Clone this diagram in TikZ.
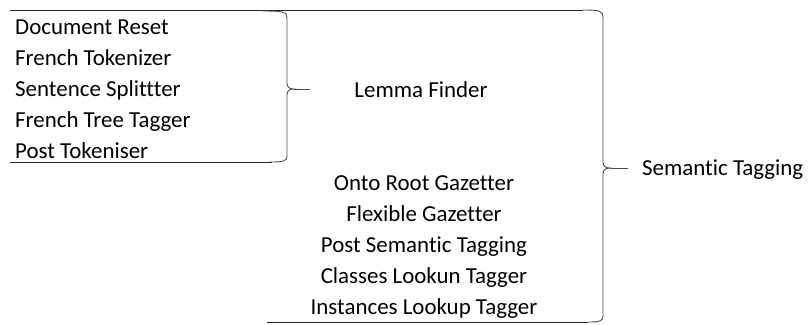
\documentclass[tikz,border=0pt]{standalone}
\usepackage{fontspec}
\setmainfont{Carlito}[RawFeature={-liga;-clig}]
\begin{document}
\begin{tikzpicture}[x=1bp,y=-1bp,
  lbl/.style={inner sep=0pt,font=\fontsize{23}{27}\selectfont},
  ln/.style={line width=0.9bp,draw=black!85},
  brace/.style={line width=0.9bp,draw=black!70}]
\useasboundingbox (0,0) rectangle (808,324);
% left list
\node[lbl,anchor=base west] (a1) at (15,34) {Document Reset};
\node[lbl,anchor=base west] (a2) at (15,65) {French Tokenizer};
\node[lbl,anchor=base west] (a3) at (15,96) {Sentence Splittter};
\node[lbl,anchor=base west] (a4) at (15,127) {French Tree Tagger};
\node[lbl,anchor=base west] (a5) at (15,158) {Post Tokeniser};
\node[lbl,anchor=base] (lf) at (421,97) {Lemma Finder};
% right list
\node[lbl,anchor=base] (b1) at (424,190) {Onto Root Gazetter};
\node[lbl,anchor=base] (b2) at (424,221) {Flexible Gazetter};
\node[lbl,anchor=base] (b3) at (424,252) {Post Semantic Tagging};
\node[lbl,anchor=base] (b4) at (424,283) {Classes Lookun Tagger};
\node[lbl,anchor=base] (b5) at (424,314) {Instances Lookup Tagger};
\node[lbl,anchor=base west] (st) at (642,175) {Semantic Tagging};
% lines
\draw[ln] (10,10) -- (583,10);
\draw[ln] (10,162) -- (272,162);
\draw[ln] (267,322) -- (588,322);
% small brace
\draw[brace] (263,11) .. controls (284,11) and (287,12) .. (287,18)
  -- (287,83) .. controls (287,87) and (289,89) .. (294,89)
  .. controls (289,89) and (287,91) .. (287,95)
  -- (287,156) .. controls (287,161) and (284,162) .. (270,162);
\draw[brace] (294,89) -- (310,89);
% big brace
\draw[brace] (583,10) .. controls (600,10) and (603,11) .. (603,17)
  -- (603,162) .. controls (603,166) and (605,168) .. (610,168)
  .. controls (605,168) and (603,170) .. (603,174)
  -- (603,316) .. controls (603,321) and (600,322) .. (588,322);
\draw[brace] (610,168) -- (628,168);
\end{tikzpicture}
\end{document}
